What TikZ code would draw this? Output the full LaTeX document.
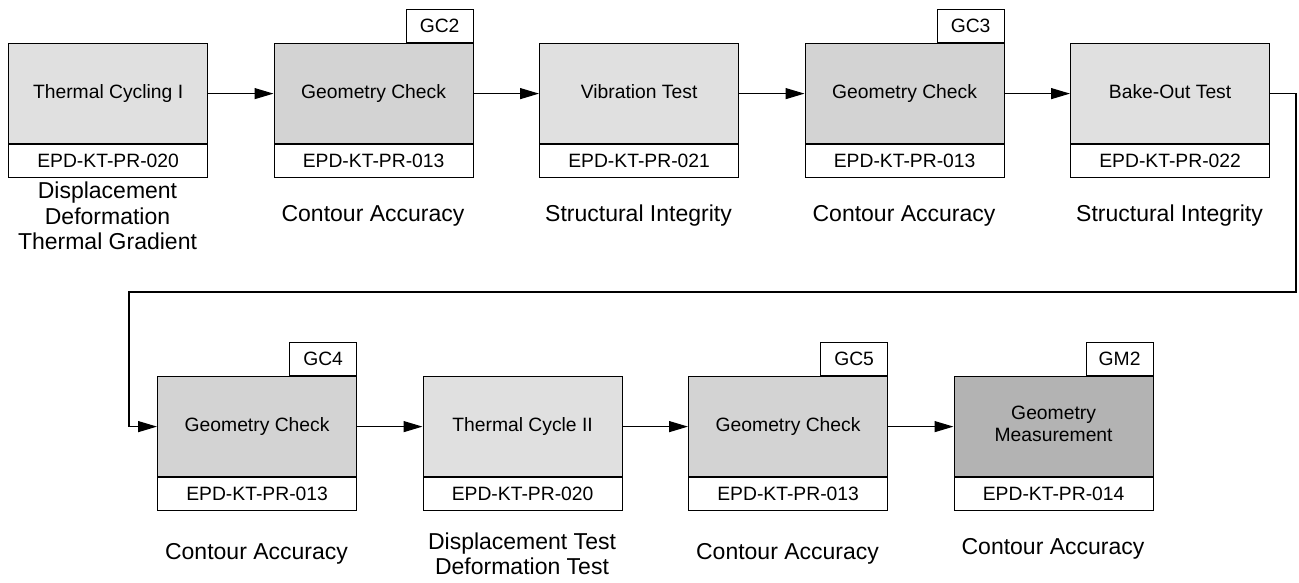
\documentclass[tikz,border=0pt]{standalone}
\usepackage{fontspec}
\setmainfont{Liberation Sans}
\usetikzlibrary{arrows.meta}
\definecolor{lightfill}{HTML}{E0E0E0}
\definecolor{midfill}{HTML}{D3D3D3}
\definecolor{darkfill}{HTML}{B3B3B3}
\tikzset{
  boxfont/.style={font=\fontsize{19.3}{22}\selectfont},
  procbox/.style={draw, line width=1.2pt, minimum width=199pt, minimum height=100pt,
    anchor=north west, inner sep=0pt, align=center, boxfont,
    execute at begin node={\strut}},
  codeband/.style={draw, fill=white, line width=1.2pt, minimum width=199pt,
    minimum height=33pt, anchor=north, inner sep=0pt, boxfont},
  tagbox/.style={draw, fill=white, line width=1.2pt, minimum width=67pt,
    minimum height=33pt, anchor=south east, inner sep=0pt, boxfont},
  resultlabel/.style={align=center, inner sep=0pt, font=\fontsize{23}{25.5}\selectfont},
  flow/.style={line width=1.2pt, -{Triangle[length=19pt,width=11pt]}},
}
\begin{document}
\begin{tikzpicture}[x=1pt, y=-1pt]
\useasboundingbox[fill=white] (0,0) rectangle (1299,582);

% ---- first row ----
\node[procbox, fill=lightfill] (b1) at (8,43) {Thermal Cycling I};
\node[codeband] (c1) at (b1.south) {EPD-KT-PR-020};
\node[resultlabel] (l1) at (107.5,216) {Displacement\\Deformation\\Thermal Gradient};

\node[procbox, fill=midfill] (b2) at (273.5,43) {Geometry Check};
\node[codeband] (c2) at (b2.south) {EPD-KT-PR-013};
\node[tagbox] (t2) at (b2.north east) {GC2};
\node[resultlabel] (l2) at (373,216) {Contour Accuracy};

\node[procbox, fill=lightfill] (b3) at (539,43) {Vibration Test};
\node[codeband] (c3) at (b3.south) {EPD-KT-PR-021};
\node[resultlabel] (l3) at (638.5,216) {Structural Integrity};

\node[procbox, fill=midfill] (b4) at (804.5,43) {Geometry Check};
\node[codeband] (c4) at (b4.south) {EPD-KT-PR-013};
\node[tagbox] (t4) at (b4.north east) {GC3};
\node[resultlabel] (l4) at (904,216) {Contour Accuracy};

\node[procbox, fill=lightfill] (b5) at (1070,43) {Bake-Out Test};
\node[codeband] (c5) at (b5.south) {EPD-KT-PR-022};
\node[resultlabel] (l5) at (1169.5,216) {Structural Integrity};

% ---- second row ----
\node[procbox, fill=midfill] (b6) at (157,376) {Geometry Check};
\node[codeband] (c6) at (b6.south) {EPD-KT-PR-013};
\node[tagbox] (t6) at (b6.north east) {GC4};
\node[resultlabel] (l6) at (256.5,554) {Contour Accuracy};

\node[procbox, fill=lightfill] (b7) at (422.5,376) {Thermal Cycle II};
\node[codeband] (c7) at (b7.south) {EPD-KT-PR-020};
\node[resultlabel] (l7) at (522,554) {Displacement Test\\Deformation Test};

\node[procbox, fill=midfill] (b8) at (688,376) {Geometry Check};
\node[codeband] (c8) at (b8.south) {EPD-KT-PR-013};
\node[tagbox] (t8) at (b8.north east) {GC5};
\node[resultlabel] (l8) at (787.5,554) {Contour Accuracy};

\node[procbox, fill=darkfill] (b9) at (953.5,376) {Geometry\\Measurement};
\node[codeband] (c9) at (b9.south) {EPD-KT-PR-014};
\node[tagbox] (t9) at (b9.north east) {GM2};
\node[resultlabel] (l9) at (1053,549) {Contour Accuracy};

% ---- connectors ----
\draw[flow] (b1) -- (b2);
\draw[flow] (b2) -- (b3);
\draw[flow] (b3) -- (b4);
\draw[flow] (b4) -- (b5);
\coordinate (turnR) at (1296,292);
\coordinate (turnL) at (129,292);
\draw[flow] (b5.east) -| (turnR) -- (turnL) |- (b6.west);
\draw[flow] (b6) -- (b7);
\draw[flow] (b7) -- (b8);
\draw[flow] (b8) -- (b9);
\end{tikzpicture}
\end{document}
